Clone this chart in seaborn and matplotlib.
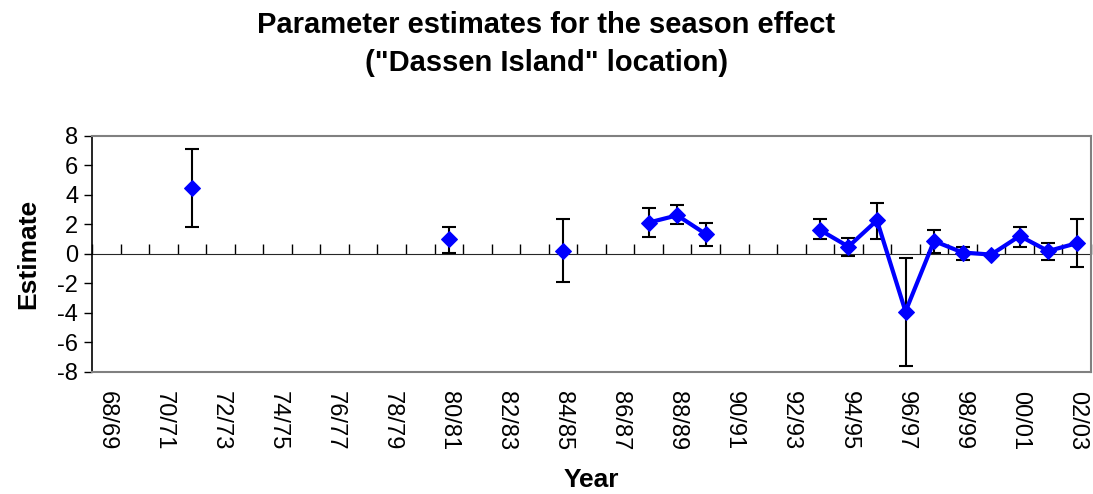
import numpy as np
import pandas as pd
import matplotlib
matplotlib.use("Agg")
import matplotlib.pyplot as plt
import seaborn as sns

# all seasons on the category axis
seasons = ['68/69', '69/70', '70/71', '71/72', '72/73', '73/74', '74/75', '75/76',
           '76/77', '77/78', '78/79', '79/80', '80/81', '81/82', '82/83', '83/84',
           '84/85', '85/86', '86/87', '87/88', '88/89', '89/90', '90/91', '91/92',
           '92/93', '93/94', '94/95', '95/96', '96/97', '97/98', '98/99', '99/00',
           '00/01', '01/02', '02/03']

# seasons that have an estimate
obs_season = ['71/72', '80/81', '84/85', '87/88', '88/89', '89/90', '93/94', '94/95',
              '95/96', '96/97', '97/98', '98/99', '99/00', '00/01', '01/02', '02/03']
estimate = [4.5, 1.0, 0.23, 2.13, 2.62, 1.36, 1.63, 0.5,
            2.28, -3.9, 0.88, 0.1, -0.04, 1.22, 0.2, 0.73]
ci_low = [1.86, 0.1, -1.9, 1.13, 2.0, 0.52, 1.0, -0.14,
          1.0, -7.57, 0.1, -0.4, -0.1, 0.5, -0.4, -0.88]
ci_high = [7.15, 1.86, 2.4, 3.1, 3.35, 2.1, 2.37, 1.1,
           3.48, -0.29, 1.6, 0.5, 0.02, 1.86, 0.73, 2.4]

sns.set_style("white")
plt.rcParams['font.family'] = ['Liberation Sans', 'DejaVu Sans']
plt.rcParams['axes.unicode_minus'] = False
plt.rcParams['text.color'] = 'black'
plt.rcParams['axes.labelcolor'] = 'black'
plt.rcParams['xtick.color'] = 'black'
plt.rcParams['ytick.color'] = 'black'

df = pd.DataFrame({'season': obs_season, 'est': estimate,
                   'lo': ci_low, 'hi': ci_high})
df['x'] = [seasons.index(s) for s in df['season']]
# break the line where seasons are missing
df['segment'] = (df['x'].diff() != 1).cumsum()

fig = plt.figure(figsize=(10.93, 4.94), dpi=100)
ax = fig.add_axes([0.0842, 0.247, 0.914, 0.4777])

ax.errorbar(df['x'], df['est'],
            yerr=[df['est'] - df['lo'], df['hi'] - df['est']],
            fmt='none', ecolor='black', elinewidth=1.5, capsize=5, capthick=1.5,
            zorder=2)
sns.lineplot(data=df, x='x', y='est', units='segment', estimator=None,
             color='#0000FF', linewidth=3, marker='D', markersize=8.5,
             markeredgecolor='#0000FF', ax=ax, zorder=3, legend=False)

ax.set_xlim(-0.5, len(seasons) - 0.5)
ax.set_ylim(-8, 8)
ax.set_yticks(np.arange(-8, 9, 2))
ax.set_xticks(range(0, len(seasons), 2))
ax.set_xticklabels(seasons[::2], rotation=-90, fontsize=17)
ax.tick_params(axis='x', length=0, pad=14)
ax.tick_params(axis='y', length=6, width=1, color='black', direction='out',
               labelsize=17, left=True, pad=4)

for side in ['top', 'right', 'bottom']:
    ax.spines[side].set_color('#808080')
    ax.spines[side].set_linewidth(1.5)
ax.spines['left'].set_color('black')
ax.spines['left'].set_linewidth(1.2)

# zero line with category tick marks
sec = ax.secondary_xaxis(0.5)
sec.set_xticks(np.arange(-0.5, len(seasons), 1.0))
sec.set_xticklabels([])
sec.tick_params(length=7, width=1, color='black', direction='out')
sec.spines['bottom'].set_color('#808080')
sec.spines['bottom'].set_linewidth(1.5)

ax.set_xlabel('Year', fontsize=19, fontweight='bold', labelpad=12)
ax.set_ylabel('Estimate', fontsize=19, fontweight='bold', labelpad=12)

fig.suptitle('Parameter estimates for the season effect\n("Dassen Island" location)',
             fontsize=21, fontweight='bold', x=0.5, y=0.978, linespacing=1.45)

fig.savefig('out.png', dpi=100)
